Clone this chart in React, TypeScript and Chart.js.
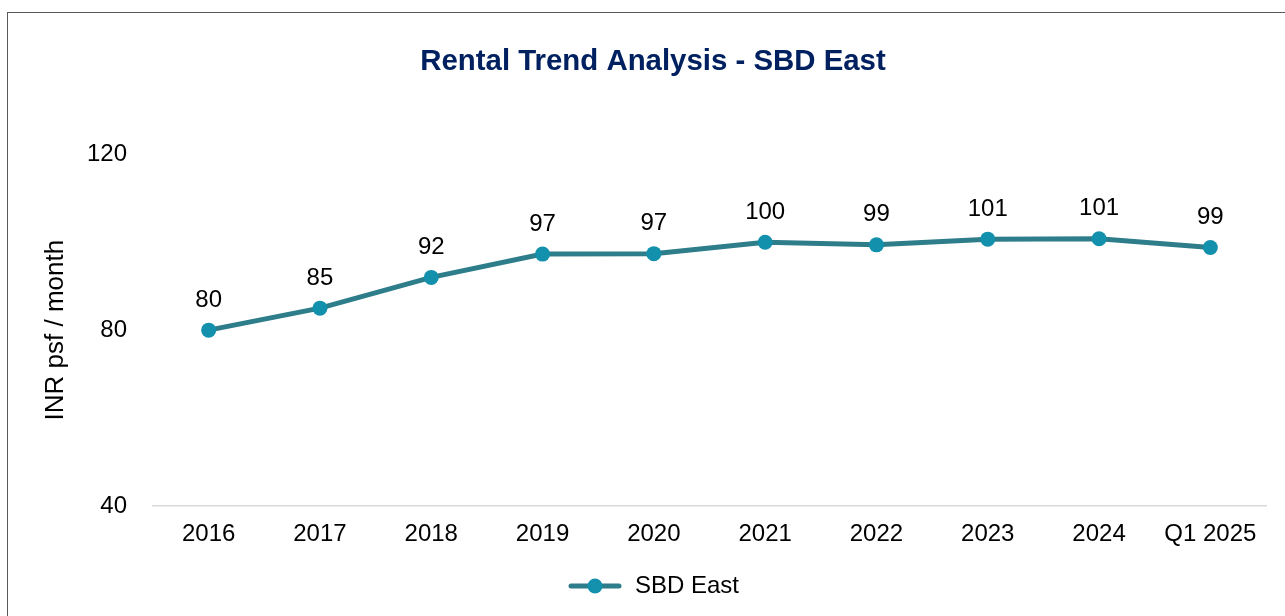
import React, { useEffect, useRef } from "react";
import { Chart, registerables } from "chart.js";

Chart.register(...registerables);

const categories = ["2016", "2017", "2018", "2019", "2020", "2021", "2022", "2023", "2024", "Q1 2025"];
const sbdEast = [80, 85, 92, 97.3, 97.4, 100, 99.4, 100.7, 100.8, 98.8];
const yTicks = [40, 80, 120];

const FONT = "'Liberation Sans', Arial, Helvetica, sans-serif";
const LINE_COLOR = "#2E7D8B";
const POINT_COLOR = "#1390AB";

function makeLegendIcon(): HTMLCanvasElement {
  const c = document.createElement("canvas");
  c.width = 56;
  c.height = 18;
  const ctx = c.getContext("2d")!;
  ctx.strokeStyle = LINE_COLOR;
  ctx.lineWidth = 5;
  ctx.lineCap = "round";
  ctx.beginPath();
  ctx.moveTo(4, 9);
  ctx.lineTo(52, 9);
  ctx.stroke();
  ctx.fillStyle = POINT_COLOR;
  ctx.beginPath();
  ctx.arc(28, 9, 7.5, 0, Math.PI * 2);
  ctx.fill();
  return c;
}

const dataLabelPlugin = {
  id: "dataLabels",
  afterDatasetsDraw(chart: any) {
    const ctx = chart.ctx;
    const meta = chart.getDatasetMeta(0);
    const data = chart.data.datasets[0].data as number[];
    ctx.save();
    ctx.font = `24px ${FONT}`;
    ctx.fillStyle = "#000000";
    ctx.textAlign = "center";
    ctx.textBaseline = "middle";
    meta.data.forEach((pt: any, i: number) => {
      ctx.fillText(String(Math.round(data[i])), pt.x, pt.y - 30);
    });
    ctx.restore();
  },
};

export default function App() {
  const ref = useRef<HTMLCanvasElement | null>(null);

  useEffect(() => {
    if (!ref.current) return;
    const chart = new Chart(ref.current, {
      type: "line",
      data: {
        labels: categories,
        datasets: [
          {
            label: "SBD East",
            data: sbdEast,
            borderColor: LINE_COLOR,
            backgroundColor: POINT_COLOR,
            borderWidth: 5,
            tension: 0,
            pointRadius: 7.5,
            pointBackgroundColor: POINT_COLOR,
            pointBorderColor: POINT_COLOR,
            pointBorderWidth: 0,
            fill: false,
          },
        ],
      },
      options: {
        animation: false,
        responsive: false,
        maintainAspectRatio: false,
        layout: { padding: { top: 0, left: 40, right: 19, bottom: 8 } },
        plugins: {
          tooltip: { enabled: false },
          title: {
            display: true,
            text: "Rental Trend Analysis - SBD East",
            color: "#002060",
            font: { family: FONT, size: 29.4, weight: "bold" },
            padding: { top: 44, bottom: 75 },
          },
          legend: {
            display: true,
            position: "bottom",
            labels: {
              usePointStyle: true,
              pointStyle: makeLegendIcon() as any,
              pointStyleWidth: 56,
              color: "#000000",
              font: { family: FONT, size: 24 },
              padding: 10,
            },
          },
        },
        scales: {
          x: {
            type: "category",
            offset: true,
            grid: { display: false, drawTicks: false },
            border: { display: true, color: "#D9D9D9", width: 1.5 },
            ticks: {
              color: "#000000",
              font: { family: FONT, size: 24 },
              padding: 14,
              maxRotation: 0,
              autoSkip: false,
            },
            afterFit: (s: any) => {
              s.height = 58;
            },
          },
          y: {
            min: 40,
            max: 120,
            grid: { display: false, drawTicks: false },
            border: { display: false },
            afterBuildTicks: (s: any) => {
              s.ticks = yTicks.map((v) => ({ value: v }));
            },
            ticks: {
              color: "#000000",
              font: { family: FONT, size: 24 },
              padding: 26,
            },
            title: {
              display: true,
              text: "INR psf / month",
              color: "#000000",
              font: { family: FONT, size: 26 },
              padding: { top: 0, bottom: 0 },
            },
            afterFit: (s: any) => {
              s.width = 113;
            },
          },
        },
      },
      plugins: [dataLabelPlugin],
    });
    return () => chart.destroy();
  }, []);

  return (
    <div
      style={{
        position: "fixed",
        left: 0,
        top: 0,
        width: 1285,
        height: 616,
        overflow: "hidden",
        background: "#ffffff",
      }}
    >
      <canvas ref={ref} width={1285} height={616} style={{ position: "absolute", left: 0, top: 0 }} />
      <div
        style={{
          position: "absolute",
          left: 7,
          top: 12,
          width: 1400,
          height: 800,
          border: "1.5px solid #595959",
          pointerEvents: "none",
        }}
      />
    </div>
  );
}
